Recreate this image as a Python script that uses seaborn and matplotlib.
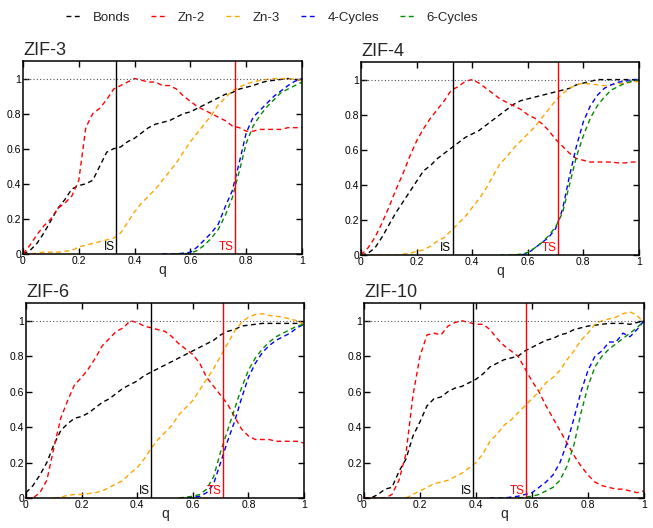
import numpy as np
import pandas as pd
import matplotlib
matplotlib.use("Agg")
import matplotlib.pyplot as plt
import seaborn as sns

nan = float("nan")

# q grid (0 .. 1, step 0.025)
q = [round(i * 0.025, 3) for i in range(41)]

series_names = ["Bonds", "Zn-2", "Zn-3", "4-Cycles", "6-Cycles"]
series_colors = ["black", "#ff0000", "#ffa500", "#0000ff", "#008b00"]

# ZIF-3
zif3_bonds = [0.0, 0.02, 0.06, 0.12, 0.19, 0.26, 0.31, 0.37, 0.39, 0.40, 0.42, 0.50, 0.58, 0.60, 0.61, 0.64, 0.66, 0.69, 0.72, 0.74,
              0.75, 0.76, 0.78, 0.80, 0.81, 0.83, 0.85, 0.87, 0.89, 0.91, 0.92, 0.94, 0.95, 0.96, 0.975, 0.985, 0.99, 0.995, 1.0, 0.995, 0.99]
zif3_zn2 = [0.0, 0.05, 0.11, 0.16, 0.20, 0.26, 0.29, 0.33, 0.42, 0.72, 0.80, 0.83, 0.88, 0.94, 0.96, 0.98, 1.0, 0.99, 0.98, 0.98,
            0.96, 0.96, 0.94, 0.90, 0.87, 0.84, 0.82, 0.80, 0.78, 0.76, 0.73, 0.72, 0.70, 0.70, 0.71, 0.71, 0.71, 0.71, 0.72, 0.72, 0.72]
zif3_zn3 = [0.0, 0.0, 0.005, 0.01, 0.01, 0.01, 0.015, 0.02, 0.04, 0.05, 0.06, 0.07, 0.08, 0.09, 0.12, 0.18, 0.24, 0.29, 0.33, 0.37,
            0.42, 0.47, 0.52, 0.58, 0.64, 0.69, 0.74, 0.79, 0.85, 0.89, 0.93, 0.95, 0.97, 0.98, 0.99, 0.995, 1.0, 1.0, 1.0, 0.995, 0.99]
zif3_c4 = [nan] * 20 + [0.0, 0.0, 0.0, 0.005, 0.01, 0.04, 0.08, 0.12, 0.17, 0.27, 0.36, 0.52, 0.69, 0.78, 0.82, 0.86, 0.90, 0.93, 0.96, 0.985, 1.0]
zif3_c6 = [nan] * 22 + [0.0, 0.0, 0.005, 0.02, 0.05, 0.09, 0.14, 0.22, 0.32, 0.47, 0.63, 0.73, 0.79, 0.84, 0.88, 0.92, 0.94, 0.96, 0.98]

# ZIF-4
zif4_bonds = [0.0, 0.01, 0.04, 0.10, 0.17, 0.24, 0.30, 0.36, 0.42, 0.48, 0.51, 0.55, 0.58, 0.61, 0.64, 0.67, 0.69, 0.71, 0.74, 0.77,
              0.80, 0.83, 0.86, 0.88, 0.89, 0.90, 0.91, 0.92, 0.93, 0.94, 0.95, 0.97, 0.98, 0.99, 1.0, 1.0, 1.0, 1.0, 1.0, 1.0, 1.0]
zif4_zn2 = [0.0, 0.04, 0.10, 0.18, 0.27, 0.37, 0.46, 0.56, 0.65, 0.72, 0.78, 0.83, 0.88, 0.94, 0.96, 0.99, 1.0, 0.98, 0.95, 0.92,
            0.89, 0.87, 0.85, 0.83, 0.80, 0.78, 0.75, 0.71, 0.66, 0.62, 0.58, 0.55, 0.54, 0.53, 0.53, 0.53, 0.53, 0.525, 0.525, 0.53, 0.53]
zif4_zn3 = [0.0, 0.0, 0.0, 0.0, 0.0, 0.0, 0.005, 0.01, 0.02, 0.03, 0.05, 0.08, 0.10, 0.14, 0.18, 0.22, 0.27, 0.32, 0.38, 0.45,
            0.52, 0.56, 0.61, 0.65, 0.69, 0.73, 0.78, 0.83, 0.88, 0.92, 0.95, 0.97, 0.98, 0.975, 0.97, 0.965, 0.97, 0.975, 0.98, 0.985, 0.99]
zif4_c4 = [nan] * 22 + [0.0, 0.0, 0.01, 0.04, 0.07, 0.10, 0.15, 0.26, 0.45, 0.62, 0.76, 0.85, 0.91, 0.95, 0.97, 0.985, 0.99, 1.0, 1.0]
zif4_c6 = [nan] * 20 + [0.0, 0.0, 0.0, 0.005, 0.015, 0.04, 0.07, 0.11, 0.16, 0.24, 0.40, 0.56, 0.68, 0.78, 0.85, 0.90, 0.94, 0.96, 0.98, 0.99, 1.0]

# ZIF-6
zif6_bonds = [0.03, 0.07, 0.13, 0.20, 0.30, 0.38, 0.42, 0.45, 0.46, 0.48, 0.51, 0.54, 0.56, 0.59, 0.62, 0.64, 0.66, 0.69, 0.71, 0.73,
              0.75, 0.77, 0.79, 0.81, 0.83, 0.85, 0.87, 0.89, 0.92, 0.94, 0.95, 0.97, 0.975, 0.98, 0.985, 0.985, 0.985, 0.985, 0.985, 0.985, 0.985]
zif6_zn2 = [0.0, 0.0, 0.03, 0.10, 0.28, 0.45, 0.55, 0.64, 0.68, 0.73, 0.79, 0.86, 0.90, 0.94, 0.96, 1.0, 0.99, 0.97, 0.96, 0.95,
            0.94, 0.91, 0.87, 0.84, 0.81, 0.76, 0.68, 0.63, 0.58, 0.53, 0.46, 0.39, 0.35, 0.33, 0.33, 0.33, 0.32, 0.32, 0.32, 0.32, 0.31]
zif6_zn3 = [nan] * 4 + [0.0, 0.005, 0.015, 0.02, 0.02, 0.025, 0.03, 0.04, 0.06, 0.08, 0.10, 0.14, 0.17, 0.22, 0.28, 0.33,
            0.37, 0.41, 0.47, 0.51, 0.55, 0.61, 0.67, 0.73, 0.80, 0.87, 0.94, 0.99, 1.02, 1.035, 1.04, 1.03, 1.025, 1.02, 1.01, 1.0, 0.98]
zif6_c4 = [nan] * 22 + [0.0, 0.0, 0.005, 0.01, 0.03, 0.08, 0.20, 0.32, 0.43, 0.56, 0.68, 0.76, 0.82, 0.86, 0.89, 0.91, 0.93, 0.96, 0.98]
zif6_c6 = [nan] * 22 + [0.0, 0.005, 0.01, 0.02, 0.05, 0.12, 0.26, 0.38, 0.50, 0.62, 0.72, 0.79, 0.84, 0.88, 0.91, 0.93, 0.95, 0.97, 0.98]

# ZIF-10
zif10_bonds = [0.0, 0.0, 0.02, 0.05, 0.06, 0.15, 0.22, 0.35, 0.43, 0.52, 0.56, 0.57, 0.60, 0.62, 0.63, 0.65, 0.67, 0.70, 0.74, 0.76,
               0.78, 0.79, 0.80, 0.83, 0.85, 0.87, 0.89, 0.90, 0.92, 0.93, 0.95, 0.96, 0.97, 0.975, 0.98, 0.985, 0.985, 0.985, 0.98, 0.99, 1.0]
zif10_zn2 = [0.0, 0.0, 0.0, 0.0, 0.02, 0.10, 0.25, 0.58, 0.80, 0.92, 0.93, 0.92, 0.97, 0.99, 1.0, 0.99, 0.98, 0.98, 0.95, 0.90,
             0.86, 0.83, 0.80, 0.73, 0.66, 0.60, 0.52, 0.45, 0.38, 0.31, 0.24, 0.18, 0.13, 0.09, 0.07, 0.06, 0.05, 0.05, 0.04, 0.03, 0.04]
zif10_zn3 = [nan] * 6 + [0.0, 0.02, 0.04, 0.06, 0.08, 0.09, 0.10, 0.12, 0.14, 0.17, 0.20, 0.25, 0.32, 0.36,
             0.41, 0.44, 0.48, 0.52, 0.56, 0.60, 0.65, 0.68, 0.72, 0.78, 0.83, 0.89, 0.93, 0.98, 1.0, 1.01, 1.02, 1.04, 1.05, 1.03, 0.99]
zif10_c4 = [nan] * 18 + [0.0, 0.0, 0.0, 0.005, 0.01, 0.02, 0.03, 0.06, 0.09, 0.13, 0.20, 0.31, 0.45, 0.60, 0.72, 0.80, 0.83, 0.88, 0.88, 0.93, 0.91, 0.95, 1.0]
zif10_c6 = [nan] * 22 + [0.0, 0.005, 0.01, 0.02, 0.04, 0.06, 0.10, 0.18, 0.30, 0.48, 0.63, 0.74, 0.80, 0.84, 0.87, 0.90, 0.93, 0.96, 1.0]

panel_titles = ["ZIF-3", "ZIF-4", "ZIF-6", "ZIF-10"]
panel_series = [
    [zif3_bonds, zif3_zn2, zif3_zn3, zif3_c4, zif3_c6],
    [zif4_bonds, zif4_zn2, zif4_zn3, zif4_c4, zif4_c6],
    [zif6_bonds, zif6_zn2, zif6_zn3, zif6_c4, zif6_c6],
    [zif10_bonds, zif10_zn2, zif10_zn3, zif10_c4, zif10_c6],
]
is_pos = [0.335, 0.33, 0.45, 0.39]
ts_pos = [0.76, 0.71, 0.71, 0.58]

sns.set_theme(style="ticks")
plt.rcParams["font.family"] = ["Liberation Sans", "DejaVu Sans"]

fig = plt.figure(figsize=(6.53, 5.28), dpi=100)

# axes boxes in figure fractions
boxes = [
    [0.0352, 0.519, 0.4273, 0.3655],
    [0.5528, 0.517, 0.4257, 0.3655],
    [0.0398, 0.0568, 0.4257, 0.3693],
    [0.5574, 0.0568, 0.4288, 0.3693],
]

dash = (0, (3.5, 2.5))
handles = []
for k in range(4):
    ax = fig.add_axes(boxes[k])
    df = pd.DataFrame({"q": q})
    for name, vals in zip(series_names, panel_series[k]):
        df[name] = vals
    for name, col in zip(series_names, series_colors):
        sub = df[["q", name]].dropna()
        sns.lineplot(data=sub, x="q", y=name, ax=ax, color=col, linewidth=1.0,
                     linestyle=dash, label=name if k == 0 else None, legend=False)
    ax.axhline(1.0, color="#555555", linestyle=(0, (1, 2)), linewidth=0.8)
    ax.axvline(is_pos[k], color="black", linewidth=1.0)
    ax.axvline(ts_pos[k], color="#ff0000", linewidth=1.0)
    ax.text(is_pos[k] - 0.006, 0.008, "IS", color="black", ha="right", va="bottom", fontsize=8.5)
    ax.text(ts_pos[k] - 0.006, 0.008, "TS", color="#ff0000", ha="right", va="bottom", fontsize=8.5)

    ax.set_xlim(0, 1)
    ax.set_ylim(0, 1.1)
    ax.set_xticks([0, 0.2, 0.4, 0.6, 0.8, 1.0])
    ax.set_xticklabels(["0", "0.2", "0.4", "0.6", "0.8", "1"])
    ax.set_yticks([0, 0.2, 0.4, 0.6, 0.8, 1.0])
    ax.set_yticklabels(["0", "0.2", "0.4", "0.6", "0.8", "1"])
    ax.tick_params(direction="in", length=4, width=1.0, top=True, right=True,
                   labelsize=7.5, pad=1.5, colors="black")
    for sp in ax.spines.values():
        sp.set_linewidth(1.1)
        sp.set_color("black")
        sp.set_visible(True)
    ax.set_xlabel("q", fontsize=10, labelpad=-2.5)
    ax.set_ylabel("")
    ax.set_title(panel_titles[k], loc="left", fontsize=13, pad=4)
    if k == 0:
        handles = ax.get_lines()[:5]

fig.legend(handles=handles, labels=series_names, loc="center", bbox_to_anchor=(0.417, 0.966),
           ncol=5, frameon=False, fontsize=9.5, handlelength=1.2, handletextpad=0.8,
           columnspacing=1.6)

fig.savefig("out.png", dpi=100)
